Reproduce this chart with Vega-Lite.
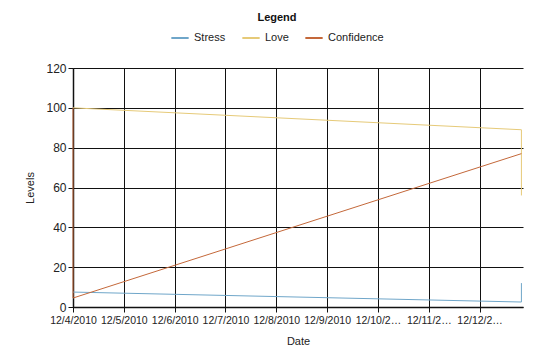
{
  "$schema": "https://vega.github.io/schema/vega-lite/v6.json",
  "width": 450,
  "height": 239,
  "autosize": "none",
  "padding": {"left": 73, "top": 68, "right": 17, "bottom": 53},
  "background": "white",
  "config": {
    "font": "Liberation Sans",
    "view": {"stroke": null}
  },
  "data": {
    "values": [
      {"series": "Stress", "seq": 0, "date": "2010-12-04T00:00", "value": 7.5},
      {"series": "Stress", "seq": 1, "date": "2010-12-12T19:45", "value": 2.5},
      {"series": "Stress", "seq": 2, "date": "2010-12-12T19:45", "value": 12},
      {"series": "Love", "seq": 0, "date": "2010-12-04T00:00", "value": 100},
      {"series": "Love", "seq": 1, "date": "2010-12-12T19:45", "value": 89},
      {"series": "Love", "seq": 2, "date": "2010-12-12T19:45", "value": 56},
      {"series": "Confidence", "seq": 0, "date": "2010-12-04T00:00", "value": 100},
      {"series": "Confidence", "seq": 1, "date": "2010-12-04T00:00", "value": 4.5},
      {"series": "Confidence", "seq": 2, "date": "2010-12-12T19:45", "value": 77}
    ]
  },
  "mark": {"type": "line", "strokeWidth": 1},
  "encoding": {
    "x": {
      "field": "date",
      "type": "temporal",
      "title": "Date",
      "scale": {"domain": ["2010-12-04T00:00", "2010-12-12T20:30"]},
      "axis": {
        "tickCount": {"interval": "day", "step": 1},
        "format": "%-m/%-d/%Y",
        "labelOverlap": false,
        "labelLimit": 48,
        "labelFontSize": 10.5,
        "labelColor": "#222",
        "labelPadding": 3,
        "labelFlush": false,
        "grid": true,
        "gridColor": "#111",
        "gridOpacity": 1,
        "domainColor": "#111",
        "domainWidth": 1.5,
        "tickColor": "#111",
        "tickSize": 5,
        "titleFontSize": 11,
        "titleFontWeight": "normal",
        "titleColor": "#222",
        "titlePadding": 10
      }
    },
    "y": {
      "field": "value",
      "type": "quantitative",
      "title": "Levels",
      "scale": {"domain": [0, 120], "nice": false},
      "axis": {
        "values": [0, 20, 40, 60, 80, 100, 120],
        "labelFontSize": 12,
        "labelColor": "#222",
        "labelPadding": 2,
        "grid": true,
        "gridColor": "#111",
        "gridOpacity": 1,
        "domainColor": "#111",
        "domainWidth": 1.5,
        "tickColor": "#111",
        "tickSize": 5,
        "titleFontSize": 11,
        "titleFontWeight": "normal",
        "titleColor": "#222",
        "titlePadding": 10
      }
    },
    "color": {
      "field": "series",
      "type": "nominal",
      "scale": {
        "domain": ["Stress", "Love", "Confidence"],
        "range": ["#6fa6c9", "#e6ca78", "#c4683a"]
      },
      "legend": {
        "title": "Legend",
        "orient": "none",
        "legendX": 97,
        "legendY": -56,
        "direction": "horizontal",
        "titleAnchor": "middle",
        "titleOrient": "top",
        "titleFontSize": 11,
        "titleFontWeight": "bold",
        "titleColor": "#111",
        "labelFontSize": 11,
        "labelColor": "#222",
        "symbolType": "stroke",
        "symbolSize": 300,
        "symbolStrokeWidth": 2,
        "columnPadding": 12
      }
    },
    "order": {"field": "seq", "type": "quantitative"}
  }
}
